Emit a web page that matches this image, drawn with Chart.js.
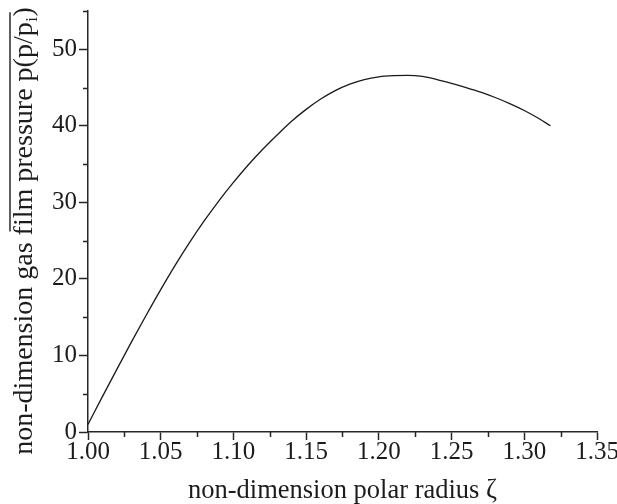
<!DOCTYPE html>
<html>
<head>
<meta charset="utf-8">
<script src="https://cdn.jsdelivr.net/npm/chart.js@4/dist/chart.umd.min.js"></script>
<style>
html,body{margin:0;padding:0;background:#ffffff;}
canvas{display:block;}
</style>
</head>
<body>
<canvas id="c" width="617" height="504"></canvas>
<script>
// ---- data ----
const polarRadius = [1.00,1.01,1.02,1.03,1.04,1.05,1.06,1.07,1.08,1.09,1.10,1.11,1.12,1.13,1.14,1.15,1.16,1.17,1.18,1.19,1.20,1.21,1.22,1.23,1.24,1.25,1.26,1.27,1.28,1.29,1.30,1.31,1.318];
const pressure = [1.0,4.65,8.25,11.8,15.25,18.6,21.8,24.8,27.6,30.2,32.6,34.85,36.9,38.8,40.6,42.15,43.5,44.6,45.45,46.05,46.4,46.55,46.6,46.45,46.05,45.55,45.0,44.4,43.7,42.9,42.0,40.95,40.0];
const xTickLabels = ['1.00','1.05','1.10','1.15','1.20','1.25','1.30','1.35'];
const yTickLabels = ['0','10','20','30','40','50'];
const xTitle = 'non-dimension polar radius \u03B6';
const yTitleMain = 'non-dimension gas film pressure p(p/p';
const yTitleSub = 'i';
const yTitleTail = ')';

const xTickValues = xTickLabels.map(Number);
const yTickValues = yTickLabels.map(Number);

const FONT = '"Liberation Serif", "Times New Roman", serif';
const AXIS = '#262626';
const TEXT = '#1c1c1c';

const decor = {
  id: 'decor',
  afterDraw(chart) {
    const {ctx, chartArea, scales} = chart;
    const x = scales.x, y = scales.y;
    ctx.save();
    ctx.strokeStyle = AXIS;
    ctx.lineWidth = 1.5;
    ctx.beginPath();
    // minor ticks on x axis (midway between labelled ticks)
    for (let i = 0; i < xTickValues.length - 1; i++) {
      const px = Math.round(x.getPixelForValue((xTickValues[i] + xTickValues[i + 1]) / 2)) + 0.5;
      ctx.moveTo(px, chartArea.bottom);
      ctx.lineTo(px, chartArea.bottom + 5);
    }
    // minor ticks on y axis
    const step = yTickValues[1] - yTickValues[0];
    for (let i = 0; i < yTickValues.length; i++) {
      const v = yTickValues[i] + step / 2;
      if (v > y.max + 1e-9) continue;
      const py = Math.round(y.getPixelForValue(v)) + 0.5;
      ctx.moveTo(chartArea.left - 5, py);
      ctx.lineTo(chartArea.left, py);
    }
    ctx.stroke();

    // y axis title (rotated, with subscript) and its overline
    const cx = 32, cy = 231;
    ctx.translate(cx, cy);
    ctx.rotate(-Math.PI / 2);
    ctx.fillStyle = TEXT;
    ctx.textBaseline = 'alphabetic';
    ctx.textAlign = 'left';
    const mainFont = '28px ' + FONT;
    const subFont = '17px ' + FONT;
    ctx.font = mainFont;
    const w1 = ctx.measureText(yTitleMain).width;
    const w3 = ctx.measureText(yTitleTail).width;
    const wPre = ctx.measureText('non-dimension gas ').width;
    ctx.font = subFont;
    const w2 = ctx.measureText(yTitleSub).width + 1;
    const total = w1 + w2 + w3;
    const start = -total / 2;
    ctx.font = mainFont;
    ctx.fillText(yTitleMain, start, 0);
    ctx.font = subFont;
    ctx.fillText(yTitleSub, start + w1 + 0.5, 5);
    ctx.font = mainFont;
    ctx.fillText(yTitleTail, start + w1 + w2, 0);
    ctx.strokeStyle = TEXT;
    ctx.lineWidth = 1.4;
    ctx.beginPath();
    ctx.moveTo(start + wPre + 4, -22);
    ctx.lineTo(start + total - 5, -22);
    ctx.stroke();
    ctx.restore();
  }
};

new Chart(document.getElementById('c'), {
  type: 'line',
  data: {
    datasets: [{
      data: polarRadius.map((v, i) => ({x: v, y: pressure[i]})),
      borderColor: '#1a1a1a',
      borderWidth: 1.3,
      pointRadius: 0,
      cubicInterpolationMode: 'monotone',
      fill: false
    }]
  },
  options: {
    responsive: false,
    animation: false,
    devicePixelRatio: 1,
    layout: {padding: {top: 11, right: 20, left: 0, bottom: 0}},
    plugins: {legend: {display: false}, tooltip: {enabled: false}},
    scales: {
      x: {
        type: 'linear',
        min: 1.0,
        max: 1.35,
        afterBuildTicks: s => { s.ticks = xTickValues.map(v => ({value: v})); },
        afterFit: s => { s.height = 72; s.paddingLeft = 0; s.paddingRight = 0; },
        border: {display: true, color: AXIS, width: 1.5},
        grid: {drawOnChartArea: false, drawTicks: true, tickLength: 8, tickColor: AXIS, tickWidth: 1.5},
        ticks: {
          color: TEXT,
          font: {family: FONT, size: 25},
          padding: -3,
          maxRotation: 0,
          autoSkip: false,
          callback: (v) => { const i = xTickValues.findIndex(t => Math.abs(t - v) < 1e-9); return i >= 0 ? xTickLabels[i] : ''; }
        },
        title: {display: true, text: xTitle, color: TEXT, font: {family: FONT, size: 26.5, lineHeight: 1}, padding: 0}
      },
      y: {
        type: 'linear',
        min: 0,
        max: 55,
        afterBuildTicks: s => { s.ticks = yTickValues.map(v => ({value: v})); },
        afterFit: s => { s.width = 88; s.paddingTop = 0; s.paddingBottom = 0; },
        border: {display: true, color: AXIS, width: 1.5},
        grid: {drawOnChartArea: false, drawTicks: true, tickLength: 9, tickColor: AXIS, tickWidth: 1.5},
        ticks: {
          color: TEXT,
          font: {family: FONT, size: 25},
          padding: 2,
          autoSkip: false,
          callback: (v) => { const i = yTickValues.indexOf(v); return i >= 0 ? yTickLabels[i] : ''; }
        },
        title: {display: false}
      }
    }
  },
  plugins: [decor]
});
</script>
</body>
</html>
